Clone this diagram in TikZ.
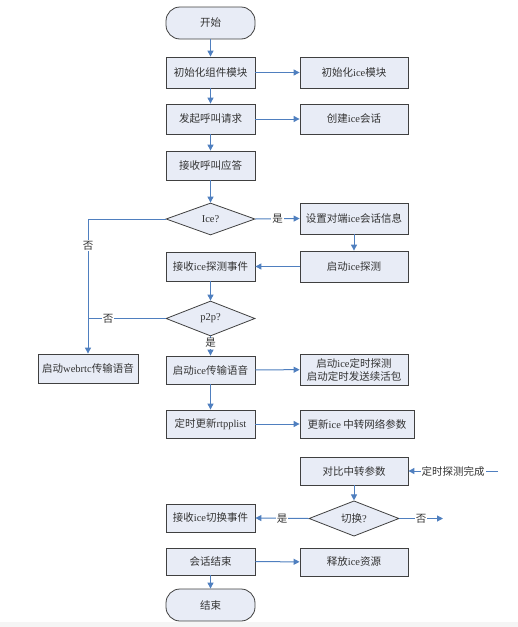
\documentclass[tikz,border=0pt]{standalone}
\usepackage{fontspec}
\setmainfont{Noto Sans CJK SC}
\newfontfamily\lat{Liberation Serif}
\usetikzlibrary{shapes.geometric,arrows.meta}
\definecolor{boxfill}{HTML}{E8ECF6}
\definecolor{lineblue}{HTML}{4F7FBF}
\definecolor{txt}{HTML}{333333}
\definecolor{bord}{HTML}{404040}
\tikzset{
  base/.style={draw=bord, fill=boxfill, line width=0.8pt, text=txt, inner sep=1pt,
    font=\fontsize{10.5}{13}\selectfont},
  box/.style={base, rectangle, minimum width=89pt, minimum height=29pt},
  wide/.style={box, minimum width=108pt},
  term/.style={box, rounded corners=14pt, minimum height=32pt},
  dec/.style={base, diamond, minimum width=89pt, minimum height=32pt, inner sep=0pt},
  conn/.style={draw=lineblue, line width=1pt, -{Triangle[length=6pt,width=6pt]}},
  plain/.style={draw=lineblue, line width=1pt},
  lbl/.style={fill=white, inner sep=1pt, text=txt, font=\fontsize{10.5}{12}\selectfont},
}
\begin{document}
\begin{tikzpicture}[x=1pt,y=-1pt]
\useasboundingbox (0,0) rectangle (518,627);
\fill[black!4] (0,622) rectangle (518,627);
% main column
\node[term] (start) at (210.5,23) {开始};
\node[box, minimum height=31pt] (b1) at (210.5,72.5) {初始化组件模块};
\node[wide, minimum height=31pt] (r1) at (354,72.5) {初始化{\lat ice}模块};
\node[box, minimum height=30pt] (b2) at (210.5,119) {发起呼叫请求};
\node[wide, minimum height=30pt] (r2) at (354,119) {创建{\lat ice}会话};
\node[box] (b3) at (210.5,165.5) {接收呼叫应答};
\node[dec] (d1) at (210.5,219) {\lat Ice?};
\node[wide, minimum height=31pt] (r3) at (354,218.5) {设置对端{\lat ice}会话信息};
\node[wide, minimum height=31pt] (r4) at (354,266.5) {启动{\lat ice}探测};
\node[box] (b4) at (210.5,266.5) {接收{\lat ice}探测事件};
\node[dec, minimum height=35pt] (d2) at (210.5,318.5) {\lat p2p?};
\node[box, minimum width=100pt] (w) at (88,368.5) {启动{\lat webrtc}传输语音};
\node[box, minimum height=28pt] (b5) at (210.5,370) {启动{\lat ice}传输语音};
\node[wide, minimum height=31pt, align=center] (r5) at (354,369.5) {启动{\lat ice}定时探测\\启动定时发送续活包};
\node[box, minimum height=28pt] (b6) at (210.5,424) {定时更新{\lat rtpplist}};
\node[box, minimum width=114pt, minimum height=28pt] (r6) at (357,424) {更新{\lat ice} 中转网络参数};
\node[wide, minimum height=28pt] (r7) at (354,471) {对比中转参数};
\node[dec, minimum width=90pt, minimum height=31pt] (d3) at (354,518.5) {切换{\lat ?}};
\node[box, minimum height=28pt] (b7) at (210.5,518) {接收{\lat ice}切换事件};
\node[box, minimum height=27pt] (b8) at (210.5,561.5) {会话结束};
\node[wide, minimum height=28pt] (r8) at (354,562) {释放{\lat ice}资源};
\node[term] (end) at (210.5,605) {结束};
\coordinate (lft1) at (88,219);
\coordinate (lft2) at (88,318.5);
\coordinate (inR7) at (498,471);
\coordinate (outD3) at (443,518.5);
% connectors
\draw[conn] (start) -- (b1);
\draw[conn] (b1) -- (r1);
\draw[conn] (b1) -- (b2);
\draw[conn] (b2) -- (r2);
\draw[conn] (b2) -- (b3);
\draw[conn] (b3) -- (d1);
\draw[conn] (d1.east) -- node[lbl] {是} (r3.west);
\draw[conn] (d1.west) -- (lft1) -- node[lbl, pos=0.2] {否} (w.north);
\draw[conn] (r3) -- (r4);
\draw[conn] (r4) -- (b4);
\draw[conn] (b4) -- (d2);
\draw[plain] (d2.west) -- node[lbl, pos=0.74] {否} (lft2);
\draw[conn] (d2.south) -- node[lbl, pos=0.35] {是} (b5.north);
\draw[conn] (b5) -- (r5);
\draw[conn] (b5) -- (b6);
\draw[conn] (b6) -- (r6);
\draw[conn] (inR7) -- node[lbl, pos=0.5] {定时探测完成} (r7.east);
\draw[conn] (r7) -- (d3);
\draw[conn] (d3.west) -- node[lbl, pos=0.5] {是} (b7.east);
\draw[conn] (d3.east) -- node[lbl, pos=0.5] {否} (outD3);
\draw[conn] (b8) -- (r8);
\draw[conn] (b8) -- (end);
\end{tikzpicture}
\end{document}
